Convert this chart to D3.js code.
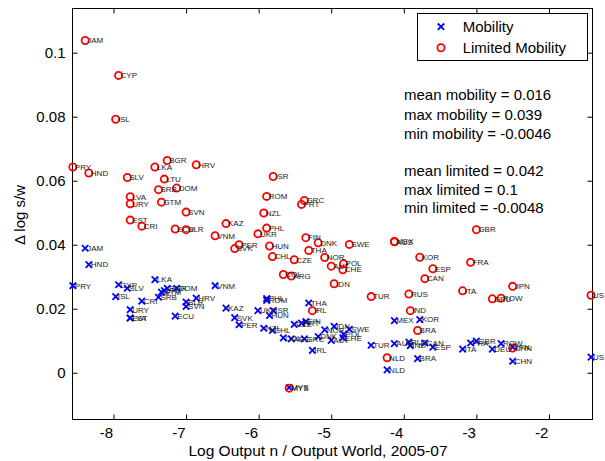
<!DOCTYPE html>
<html><head><meta charset="utf-8">
<script src="https://cdn.jsdelivr.net/npm/d3@7"></script>
<style>
html,body{margin:0;padding:0;background:#fff;}
svg{display:block;font-family:"Liberation Sans",Arial,sans-serif;}
</style></head><body>
<svg id="chart" width="605" height="461"></svg>
<script>
// Country codes and log output share (x), shared by both series
const countries = ["JAM","HND","PRY","CYP","ISL","SLV","LKA","BGR","HRV","LTU",
  "SRB","DOM","LVA","URY","GTM","SVN","EST","CRI","ECU","BLR",
  "KAZ","VNM","PER","SVK","UKR","ISR","ROM","NZL","GRC","PRT",
  "PHL","HUN","FIN","DNK","SWE","MEX","AUS","THA","CHL","CZE",
  "NOR","AUT","POL","CHE","COL","ARG","IDN","TUR","RUS","IND",
  "BRA","IRL","NLD","MYS","GBR","KOR","ESP","CAN","FRA","ITA",
  "JPN","DEU","ROW","US","CHN"];
const logOutput = [-8.39,-8.34,-8.56,-7.93,-7.97,-7.81,-7.43,-7.26,-6.86,-7.30,
  -7.38,-7.13,-7.77,-7.77,-7.34,-7.00,-7.77,-7.61,-7.15,-7.00,
  -6.45,-6.60,-6.27,-6.33,-6.01,-5.80,-5.89,-5.93,-5.37,-5.41,
  -5.89,-5.85,-5.35,-5.18,-4.75,-4.13,-4.13,-5.31,-5.81,-5.51,
  -5.09,-5.00,-4.83,-4.84,-5.66,-5.55,-4.96,-4.45,-3.93,-3.91,
  -3.81,-5.26,-4.23,-5.58,-3.00,-3.78,-3.60,-3.71,-3.08,-3.19,
  -2.50,-2.78,-2.66,-1.42,-2.50];
// Change in log s/w with full mobility
const mobility = [0.0389,0.0338,0.0272,0.0275,0.0238,0.0264,0.0291,0.0264,0.0233,0.0257,
  0.0236,0.0264,0.0171,0.0197,0.0252,0.0207,0.0171,0.0224,0.0177,0.0221,
  0.0202,0.0272,0.0150,0.0172,0.0194,0.0194,0.0226,0.0139,0.0106,0.0155,
  0.0232,0.0179,0.0160,0.0113,0.0136,0.0163,0.0091,0.0218,0.0132,0.0151,
  0.0134,0.0101,0.0120,0.0109,0.0109,0.0106,0.0145,0.0086,0.0096,0.0085,
  0.0044,0.0070,0.0009,-0.0046,0.0099,0.0166,0.0080,0.0093,0.0093,0.0074,
  0.0080,0.0074,0.0091,0.0049,0.0036];
// Change in log s/w with limited mobility
const limited = [0.1038,0.0624,0.0643,0.0929,0.0792,0.0610,0.0643,0.0663,0.0650,0.0605,
  0.0572,0.0577,0.0550,0.0528,0.0533,0.0502,0.0477,0.0458,0.0449,0.0447,
  0.0466,0.0428,0.0400,0.0388,0.0434,0.0613,0.0551,0.0499,0.0538,0.0526,
  0.0452,0.0396,0.0422,0.0406,0.0401,0.0410,0.0409,0.0382,0.0363,0.0353,
  0.0360,0.0333,0.0341,0.0322,0.0307,0.0302,0.0278,0.0238,0.0246,0.0194,
  0.0132,0.0194,0.0047,-0.0048,0.0447,0.0361,0.0325,0.0294,0.0345,0.0256,
  0.0270,0.0231,0.0233,0.0242,0.0077];
const xTicks = [-8,-7,-6,-5,-4,-3,-2];
const yTicks = [0,0.02,0.04,0.06,0.08,0.1];
const seriesNames = ["Mobility","Limited Mobility"];

const svg = d3.select("#chart");
const plotL = 72.5, plotR = 592.5, plotT = 8.5, plotB = 419.5;

const x = d3.scaleLinear().domain([-8.565, -1.40]).range([plotL, plotR]);
const y = d3.scaleLinear().domain([-0.0146, 0.1138]).range([plotB, plotT]);

svg.append("rect").attr("width",605).attr("height",461).attr("fill","#fff");

// Axes: ticks point inward on all four sides
const tickLen = 5;
const fmtY = d => d === 0 ? "0" : String(+d.toPrecision(2));
const gx = svg.append("g").attr("transform",`translate(0,${plotB})`)
  .call(d3.axisBottom(x).tickValues(xTicks).tickSizeInner(-tickLen).tickSizeOuter(0)
    .tickFormat(d => String(d)));
const gxTop = svg.append("g").attr("transform",`translate(0,${plotT})`)
  .call(d3.axisTop(x).tickValues(xTicks).tickSizeInner(-tickLen).tickSizeOuter(0).tickFormat(""));
const gy = svg.append("g").attr("transform",`translate(${plotL},0)`)
  .call(d3.axisLeft(y).tickValues(yTicks).tickSizeInner(-tickLen).tickSizeOuter(0).tickFormat(fmtY));
const gyR = svg.append("g").attr("transform",`translate(${plotR},0)`)
  .call(d3.axisRight(y).tickValues(yTicks).tickSizeInner(-tickLen).tickSizeOuter(0).tickFormat(""));
[gx,gxTop,gy,gyR].forEach(g => {
  g.select(".domain").remove();
  g.selectAll("line").attr("stroke","#000").attr("stroke-width",1);
  g.selectAll("text").attr("fill","#000").attr("font-size",15)
    .attr("font-family",'"Liberation Sans",Arial,sans-serif');
});
gx.selectAll("text").attr("text-anchor","end").attr("x",-1).attr("y",8).attr("dy","0.71em");
gy.selectAll("text").attr("x",-7);

// Frame
svg.append("rect").attr("x",plotL).attr("y",plotT).attr("width",plotR-plotL).attr("height",plotB-plotT)
  .attr("fill","none").attr("stroke","#000").attr("stroke-width",1);

// Markers
const xs = 3.2;
const pts = countries.map((c,i) => ({c, x: logOutput[i], m: mobility[i], l: limited[i]}));
svg.append("g").selectAll("path").data(pts).join("path")
  .attr("d", d => {const px = x(d.x), py = y(d.m);
    return `M${px-xs},${py-xs}L${px+xs},${py+xs}M${px-xs},${py+xs}L${px+xs},${py-xs}`;})
  .attr("stroke","#0000ff").attr("stroke-width",1.8).attr("fill","none");
svg.append("g").selectAll("circle").data(pts).join("circle")
  .attr("cx", d => x(d.x)).attr("cy", d => y(d.l)).attr("r",3.6)
  .attr("stroke","#ff0000").attr("stroke-width",1.8).attr("fill","none");

// Country labels
const lab = svg.append("g").attr("font-size",8).attr("fill","#222");
lab.selectAll("text.m").data(pts).join("text").attr("class","m")
  .attr("x", d => x(d.x)+2).attr("y", d => y(d.m)).attr("dy","0.35em").text(d => d.c);
lab.selectAll("text.l").data(pts).join("text").attr("class","l")
  .attr("x", d => x(d.x)+2).attr("y", d => y(d.l)).attr("dy","0.35em").text(d => d.c);

// Axis titles
svg.append("text").attr("x",318).attr("y",451).attr("dy","0.35em").attr("text-anchor","middle")
  .attr("font-size",15.5).text("Log Output n / Output World, 2005-07");
svg.append("text").attr("transform","translate(20,215) rotate(-90)").attr("dy","0.35em")
  .attr("text-anchor","middle").attr("font-size",15).text("\u0394 log s/w");

// Legend
const lg = svg.append("g");
lg.append("rect").attr("x",417.5).attr("y",13.5).attr("width",170).attr("height",47)
  .attr("fill","#fff").attr("stroke","#000").attr("stroke-width",1);
const lx = 441, ly = [26.7, 47.7];
lg.append("path").attr("d",`M${lx-xs},${ly[0]-xs}L${lx+xs},${ly[0]+xs}M${lx-xs},${ly[0]+xs}L${lx+xs},${ly[0]-xs}`)
  .attr("stroke","#0000ff").attr("stroke-width",1.8);
lg.append("circle").attr("cx",lx).attr("cy",ly[1]).attr("r",3.6).attr("fill","none")
  .attr("stroke","#ff0000").attr("stroke-width",1.8);
lg.selectAll("text").data(seriesNames).join("text").attr("x",462.7).attr("y",(d,i)=>ly[i])
  .attr("dy","0.35em").attr("font-size",15).text(d => d);

// Summary statistics
const f2 = v => String(+v.toPrecision(2));
const stats = [
  `mean mobility = ${f2(d3.mean(mobility))}`,
  `max mobility = ${f2(d3.max(mobility))}`,
  `min mobility = ${f2(d3.min(mobility))}`,
  `mean limited = ${f2(d3.mean(limited))}`,
  `max limited = ${f2(d3.max(limited))}`,
  `min limited = ${f2(d3.min(limited))}`];
const sy = [95, 114.3, 133.3, 171, 189.3, 207.7];
svg.append("g").selectAll("text").data(stats).join("text")
  .attr("x",404).attr("y",(d,i)=>sy[i]).attr("dy","0.35em").attr("font-size",15).text(d => d);
</script>
</body></html>
